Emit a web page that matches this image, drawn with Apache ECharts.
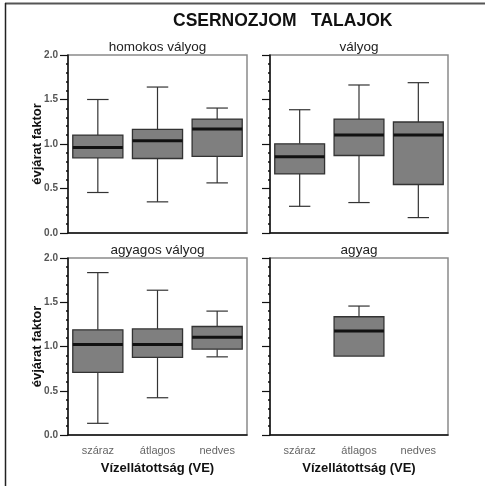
<!DOCTYPE html>
<html><head><meta charset="utf-8">
<script src="https://cdn.jsdelivr.net/npm/echarts@6/dist/echarts.min.js"></script>
<style>html,body{margin:0;padding:0;background:#fff}#c{width:485px;height:486px}</style>
</head><body><div id="c"></div>
<script>
const categories = ['száraz', 'átlagos', 'nedves'];
const yTicks = [0, 0.5, 1.0, 1.5, 2.0];
const panelTitles = ['homokos vályog', 'vályog', 'agyagos vályog', 'agyag'];
// [low whisker, Q1, median, Q3, high whisker]; null = no data
const homokosValyog = [[0.455, 0.845, 0.96, 1.10, 1.50], [0.35, 0.837, 1.036, 1.165, 1.64], [0.563, 0.86, 1.168, 1.28, 1.404]];
const valyog = [[0.30, 0.664, 0.856, 1.002, 1.385], [0.342, 0.871, 1.10, 1.28, 1.663], [0.173, 0.545, 1.10, 1.247, 1.689]];
const agyagosValyog = [[0.132, 0.707, 1.023, 1.188, 1.835], [0.421, 0.876, 1.023, 1.199, 1.636], [0.883, 0.97, 1.105, 1.226, 1.40]];
const agyag = [null, [0.892, 0.892, 1.174, 1.336, 1.457], null];

const panels = [homokosValyog, valyog, agyagosValyog, agyag];
const grids = [
  {left: 68, top: 55, width: 179, height: 178},
  {left: 270, top: 55, width: 178, height: 178},
  {left: 68, top: 258, width: 179, height: 177},
  {left: 270, top: 258, width: 178, height: 177}
];

function renderBox(params, api) {
  const idx = api.value(0);
  const x = api.coord([idx, 0])[0];
  const band = api.size([1, 0])[0];
  const hw = band * 0.42;
  const cw = band * 0.18;
  const yl = api.coord([idx, api.value(1)])[1];
  const y1 = api.coord([idx, api.value(2)])[1];
  const ym = api.coord([idx, api.value(3)])[1];
  const y3 = api.coord([idx, api.value(4)])[1];
  const yh = api.coord([idx, api.value(5)])[1];
  const ls = {stroke: '#333', lineWidth: 1.2};
  const ch = [];
  ch.push({type: 'line', shape: {x1: x, y1: yh, x2: x, y2: y3}, style: ls});
  ch.push({type: 'line', shape: {x1: x - cw, y1: yh, x2: x + cw, y2: yh}, style: ls});
  if (Math.abs(yl - y1) > 0.5) {
    ch.push({type: 'line', shape: {x1: x, y1: y1, x2: x, y2: yl}, style: ls});
    ch.push({type: 'line', shape: {x1: x - cw, y1: yl, x2: x + cw, y2: yl}, style: ls});
  }
  ch.push({type: 'rect', shape: {x: x - hw, y: y3, width: 2 * hw, height: y1 - y3},
    style: {fill: '#7f7f7f', stroke: '#333', lineWidth: 1.3}});
  ch.push({type: 'line', shape: {x1: x - hw, y1: ym, x2: x + hw, y2: ym},
    style: {stroke: '#111', lineWidth: 3}});
  return {type: 'group', children: ch};
}

const option = {
  animation: false,
  backgroundColor: '#fff',
  title: [
    {text: 'CSERNOZJOM   TALAJOK', left: 173, top: 12, padding: 0,
     textStyle: {fontFamily: 'Liberation Sans, Arial', fontWeight: 'bold', fontSize: 17.5, color: '#111'}}
  ].concat(panelTitles.map((t, i) => ({
    text: t, left: grids[i].left + grids[i].width / 2, top: grids[i].top - 15, textAlign: 'center', padding: 0,
    textStyle: {fontFamily: 'Liberation Sans, Arial', fontWeight: 'normal', fontSize: 13.5, color: '#222'}
  }))),
  graphic: [
    {type: 'line', shape: {x1: 5, y1: 3.5, x2: 485, y2: 3.5}, style: {stroke: '#555', lineWidth: 2}},
    {type: 'line', shape: {x1: 5.5, y1: 3, x2: 5.5, y2: 486}, style: {stroke: '#222', lineWidth: 1.5}}
  ],
  grid: grids.map(g => Object.assign({show: true, borderColor: '#8a8a8a', borderWidth: 1.5, backgroundColor: 'transparent'}, g)),
  xAxis: grids.map((g, i) => ({
    type: 'category', gridIndex: i, data: categories, boundaryGap: true,
    name: i >= 2 ? 'Vízellátottság (VE)' : '', nameLocation: 'middle', nameGap: 27,
    nameTextStyle: {fontFamily: 'Liberation Sans, Arial', fontWeight: 'bold', fontSize: 13, color: '#111'},
    axisLine: {lineStyle: {color: '#111', width: 1.5}},
    axisTick: {alignWithLabel: true, length: 5, lineStyle: {color: '#111', width: 1.5}},
    axisLabel: {show: i >= 2, margin: 10, fontSize: 11, color: '#666', fontFamily: 'Liberation Sans, Arial'},
    splitLine: {show: false}
  })),
  yAxis: grids.map((g, i) => ({
    type: 'value', gridIndex: i, min: yTicks[0], max: yTicks[yTicks.length - 1], interval: 0.5,
    name: (i % 2 === 0) ? 'évjárat faktor' : '', nameLocation: 'middle', nameGap: 24, nameMoveOverlap: false,
    nameTextStyle: {fontFamily: 'Liberation Sans, Arial', fontWeight: 'bold', fontSize: 13, color: '#111'},
    axisLine: {show: true, lineStyle: {color: '#111', width: 1.5}},
    axisTick: {show: true, length: 8, lineStyle: {color: '#111', width: 1.2}},
    minorTick: {show: true, splitNumber: 5, length: 2, lineStyle: {color: '#111', width: 1.5}},
    axisLabel: {show: i % 2 === 0, margin: 10, fontSize: 10, fontWeight: 'bold', color: '#555',
      fontFamily: 'Liberation Sans, Arial', formatter: v => v.toFixed(1)},
    splitLine: {show: false}
  })),
  series: panels.map((p, i) => ({
    type: 'custom', xAxisIndex: i, yAxisIndex: i,
    encode: {x: 0, y: [1, 2, 3, 4, 5]},
    renderItem: renderBox,
    data: p.map((v, k) => v ? [k].concat(v) : null).filter(d => d)
  }))
};
echarts.init(document.getElementById('c')).setOption(option);
</script></body></html>
